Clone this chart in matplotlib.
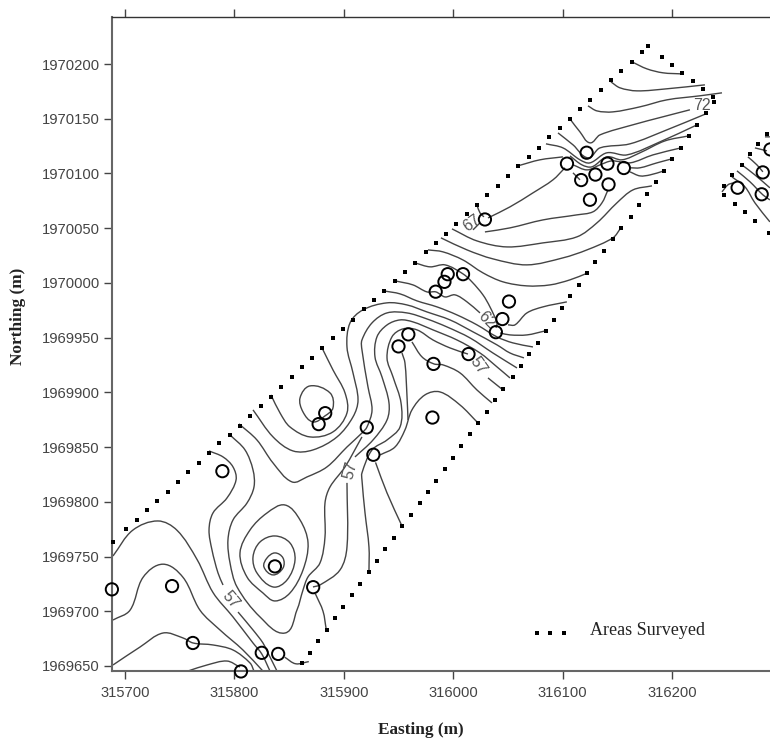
import matplotlib
matplotlib.use("Agg")
import math
import matplotlib.pyplot as plt
from matplotlib.path import Path
from matplotlib.patches import PathPatch

# Values are offsets (m) from these bases
E0 = 315000
N0 = 1969000

x_ticks = [315700, 315800, 315900, 316000, 316100, 316200]
y_ticks = [1969650, 1969700, 1969750, 1969800, 1969850, 1969900, 1969950, 1970000,
           1970050, 1970100, 1970150, 1970200]

survey_points = [(688,720),(743,723),(762,671),(806,645),(825,662),(840,661),(837,741),(872,722),
    (789,828),(883,881),(877,871),(921,868),(927,843),(981,877),(950,942),(959,953),(982,926),
    (1014,935),(1039,955),(1045,967),(1051,983),(984,992),(992,1001),(995,1008),(1009,1008),
    (1029,1058),(1104,1109),(1117,1094),(1130,1099),(1141,1109),(1122,1119),(1156,1105),
    (1142,1090),(1125,1076),(1260,1087),(1283,1101),(1282,1081),(1290,1122)]

boundary_main = [(688.8,763),(701.2,774.9),(710.7,783.1),(720.1,792.3),(729.5,800.9),(739,809.4),(748.5,818.4),
    (757.9,827),(767.4,835.6),(776.8,845),(786.2,853.4),(795.7,861.4),(805.1,869.7),(814.5,878.5),(824,887.2),
    (833.4,895.8),(842.9,905),(852.2,914.1),(861.5,923.5),(870.9,931.7),(880.3,940.6),(889.8,949.8),(899.2,958),
    (908.7,966.5),(918.2,976),(927.6,984.2),(937,992.7),(946.5,1002.1),(955.9,1010.4),(965.1,1018.6),(974.7,1028.4),
    (984,1036.6),(993.4,1045.1),(1002.8,1054.2),(1012.3,1063.1),(1021.7,1071.3),(1031.1,1080.7),(1040.6,1089),
    (1050,1097.6),(1059.5,1106.7),(1068.9,1115.5),(1078.4,1123.7),(1087.5,1133.2),(1097.3,1141.4),(1106.7,1149.9),
    (1116.1,1159.3),(1125.3,1167.6),(1134.8,1176.2),(1144.2,1185.6),(1153.6,1193.8),(1163.1,1202.3),(1172.5,1211.4),
    (1178.3,1216.9),(1190.5,1206.6),(1200,1199.3),(1209.4,1192),(1218.9,1184.4),(1228,1177.1),(1237.4,1169.8),
    (1238.6,1165.5),(1231.3,1155.1),(1222.8,1144.4),(1215.5,1134.1),(1208.2,1123.7),(1200,1113.1),(1192.4,1102.7),
    (1185.1,1092.1),(1176.8,1081.7),(1169.5,1071.3),(1162.2,1060.6),(1153.6,1050.3),(1146.3,1040),(1137.8,1029.6),
    (1130,1019.2),(1122.7,1008.7),(1114.9,998.2),(1107.2,987.7),(1099.4,977.2),(1092.1,966.5),(1084.8,956.2),
    (1077.2,945.5),(1069,934.9),(1061.7,924.5),(1054.4,914.1),(1045.8,903.4),(1038.5,893.1),(1031.1,882.4),
    (1022.6,872),(1015.3,861.7),(1007.1,851),(999.8,840.4),(992.5,830),(984,819.4),(976.7,809),(969.4,798.7),
    (961.1,788.3),(953.4,777.7),(946.3,767.3),(937.9,756.6),(930.6,746.2),(923.3,735.9),(915.1,725.2),(907.5,714.9),
    (899.2,704.2),(891.7,693.9),(884.3,683.2),(876.1,672.8),(868.8,662.2),(861.5,652.4)]

boundary_east = [(1286.8,1136.2),(1278.6,1127.1),(1271.3,1117.9),(1263.9,1107.9),(1254.8,1098.7),(1247.5,1088.7),
    (1247.5,1080.5),(1257.5,1072.2),(1266.7,1064.9),(1275.8,1056.7),(1288.6,1045.7)]

legend_marks = [(1076.3,680.2),(1088.7,680.2),(1101.2,680.2)]

# Open contour lines
c01 = [(689,750.5),(707,774),(730,782.5),(747.5,774),(766,747),(780.5,717),(798.7,694.8),(817,671),(825,661),(832.5,645.4)]
c02 = [(689,692),(704.6,701),(716.5,731),(734.7,743),(753,731),(768.5,701),(786.8,682.9),(807.8,664.6),(826,645.4)]
c03 = [(689,650.9),(713.7,667.3),(734.7,680.1),(753,675.6),(762.2,671),(780.4,669.2),(798.7,664.6),(814.3,652.7),(817.9,645.4)]
c04 = [(757.6,645.4),(775,650.9),(793.2,654.5),(805,649)]
c05a = [(776.8,846.5),(789.6,841),(798.7,831.9),(801.5,820),(793.2,803.5),(780.4,789.8),(776.8,774.3),(779.5,756),(785,735),(789.6,724)]
c05b = [(803.3,699.3),(817,682.9),(826.1,671),(830.7,661.9),(838.9,645.4)]
c05c = [(846,658),(856,652),(868,654)]
c06 = [(796,861.1),(809.7,847.4),(817,829.1),(817.9,813.6),(811.5,798.9),(798.7,783.4),(794.1,765.2),(796,744.1),
       (802.4,722.2),(823.4,694.8),(846.2,680.1),(857.2,701.2),(862.7,719.4),(867.3,731.4),(878.2,744.1),(882.8,767.9),
       (882.8,798.9),(887.4,813.6),(901.1,831.9),(916.6,859.3)]
c06b = [(874,716),(881,700),(884,683)]
c07 = [(833.4,897.7),(841.7,881.2),(850.8,868.4),(869.1,859.3),(890.1,863.9),(902.9,881.2),(901.1,899.5),(890.1,920.5),(880.1,940.6)]
c09 = [(817,884),(835.3,859.3),(853.5,846.5),(871.8,847.4),(893.8,859.3),(908.4,877.6),(913,893.1),(908.4,917.8),
       (902.9,941.5),(905.7,963.5),(917.5,975.4),(939.5,981.8),(957.7,979.9),(976,973.5),(997.1,966.2),(1018.1,955.3),
       (1040,943.4),(1051.9,936),(1064.7,931.5)]
c10 = [(804.2,871.2),(820.6,856.5),(835.3,835.5),(852.6,818.2),(866.3,822.7),(884.6,831.9),(902.9,850.1),(916.6,862.9),
       (921.2,868.4),(925.8,883.9),(922.1,905),(916.6,938.8),(916.6,947.9),(925.8,963.5),(939.5,972.6),(957.7,972.6),
       (976,967.1),(994.3,959.8),(1015.3,949.8),(1036.3,936),(1058.3,922.3)]
c11a = [(871.8,722.2),(878.2,724),(896.5,737.7),(902.9,758.7),(902.9,817.3)]
c11b = [(910.2,841),(926.7,856.5),(939.5,874.8),(941.3,890.4),(934.9,914.1),(928.5,932.4),(930.3,950.7),(939.5,961.6),
        (951.4,966.2),(963.2,964.4),(981.5,957.1),(1003.4,947.9),(1024.5,936),(1040,923.3),(1051.9,913.2)]
c12a = [(923,735.9),(923,758.7),(919.4,789.8),(916.6,820),(916.6,826.4),(925.8,847.4),(939.5,856.5),(951.4,868.4),
        (952.3,890.4),(945,914.1),(939.5,931.5),(944,950.7),(954.1,958),(966.9,957.1),(981.5,947.9),(997.1,940.6),(1013.5,935)]
c12b = [(1031.8,913.2),(1045.5,902.2)]
c13 = [(953.2,936),(955.9,926.9),(957.8,895.8),(958.7,874.8)]
c14 = [(933.1,842.8),(946.8,850.1),(955.9,865.7),(962.3,884),(974.2,897.7),(987.9,900.4),(1006.2,888.5),(1022.6,872.1)]
c15 = [(929,836),(939.5,808.1),(953.2,777.9)]
c16 = [(962.3,946.1),(971.5,932.4),(982.4,926),(990.7,925.1),(1006.2,917.8),(1021.7,902.2),(1035.4,890.4)]
c17 = [(936.7,992.7),(951.4,990),(966.9,983.6),(985.2,978.1),(1003.4,970.8),(1021.7,961.7),(1040,950.7),(1054.6,945.2),(1072.9,941.5)]
c18 = [(946.8,1001.9),(963.2,998.2),(976,991.8),(984.2,991.8),(992.5,987.2),(1001.6,989.1),(1012.6,982.7),(1024.5,972.6)]
c19 = [(965.1,1018.3),(978.8,1014.7),(992.5,1016.5),(1008.9,1008.3),(1017.2,1000.9),(1027.2,989.1),(1033.6,978.1),(1040,963.5),(1039.1,958.9)]
c20 = [(1042.8,954.3),(1051.9,952.5),(1067.4,952.5),(1083.9,956.1)]
c21 = [(1050.1,961.7),(1056.5,961.7),(1067.4,972.6),(1082,978.1),(1103.9,982.7)]
c22 = [(976.9,1030.2),(990.6,1028.4),(1008.9,1021),(1027.2,1009.2),(1045.5,1001),(1067.4,997.3),(1088.5,998.2),(1106.7,1002.8),(1123.2,1009.2)]
c23 = [(988.8,1041.2),(1012.6,1030.2),(1036.3,1022),(1067.4,1016.5),(1100.3,1022.9),(1122.3,1030.2),(1146,1041.2),(1153.3,1050.3)]
c24 = [(998.9,1049.4),(1021.7,1038.4),(1049.2,1032.9),(1082.1,1036.6),(1113.1,1042.1),(1131.4,1054.9),(1149.7,1073.2),(1164.3,1085),(1181.7,1088.7)]
c25 = [(1029,1046.6),(1051.9,1050.3),(1082.1,1057.6),(1113.1,1062.2),(1127.8,1065),(1136,1073.2),(1141.5,1085)]
c26 = [(1031.8,1059.4),(1051.9,1069.5),(1072.9,1082.3),(1091.2,1094.2),(1102.2,1105.2)]
c27 = [(1109.5,1100.6),(1115.9,1094.2)]
c28 = [(1021.7,1071.3),(1024.5,1064),(1028.1,1060.4)]
c29 = [(1018.1,1048.5),(1024.5,1054.9)]
c30 = [(1059.2,1107),(1079.3,1112.5),(1100.3,1115.2)]
c31 = [(1106.7,1149.9),(1115.9,1138),(1125,1128),(1134.2,1135.3),(1164.3,1144.5),(1191.7,1151.8),(1216.4,1158.2)]
c32 = [(1095.8,1137.1),(1109.5,1126.2),(1123.2,1114.3),(1134.2,1123.4),(1161.6,1127.1),(1195.4,1139.9),(1231,1154.5)]
c33 = [(1084.8,1127.1),(1100.3,1123.4),(1115.9,1112.5),(1125,1109.7),(1140.5,1118.9),(1158.8,1117),(1189,1128.9),(1222.8,1144.4)]
c34 = [(1106.7,1116.1),(1117.7,1107.9),(1126.8,1106.1),(1140.5,1115.2),(1154.3,1112.5),(1170.7,1118.9),(1193.6,1129.8),(1215.5,1134.4)]
c35 = [(1109.5,1107.9),(1122.3,1103.3),(1134.2,1107.9),(1145.1,1111.5),(1161.6,1109.7),(1182.6,1117),(1208.2,1123.4)]
c36 = [(1161.6,1105.2),(1170.7,1105.2),(1186.2,1109.7),(1200,1113.4)]
c37 = [(1161.6,1101.5),(1170.7,1097.8),(1179.9,1098.7),(1192.6,1102.4)]
c38 = [(1123.2,1161.8),(1131.4,1157.2),(1146,1156.3),(1170.7,1160.9),(1195.4,1167.3),(1225.6,1171),(1245.7,1173.7)]
c39 = [(1144.2,1183.7),(1152.4,1178.3),(1168,1175.5),(1195.4,1177.4),(1230.1,1181)]
c40 = [(1163.4,1202),(1177.1,1195.6),(1191.7,1192),(1209.1,1191)]
r1 = [(1245.7,1083.2),(1251.1,1089.6),(1255.7,1091.4)]
r2 = [(1269.4,1115.2),(1277.6,1107.9),(1283.1,1101.5)]
r3 = [(1263.9,1107.9),(1275.8,1098.7),(1289.5,1086.9)]
r4 = [(1259.4,1102.4),(1271.3,1092.4),(1283.1,1080.5),(1289.5,1075.9)]
r5 = [(1254.8,1096.9),(1266.7,1087.8),(1275.8,1073.2),(1289.5,1055.8)]
r6 = [(1275.8,1123.4),(1286.8,1120.7)]
r7 = [(1285,1133.5),(1289.5,1133.5)]

# Closed contour lines
h1 = [(846.2,797.1),(829.8,789.8),(814.3,774.3),(805.1,753.3),(811.5,731.3),(826.1,716.7),(837.1,709.4),(850.8,716.7),(862.7,737.7),(867.3,762.4),(860,783.4)]
h2 = [(837.1,768.8),(823.4,763.3),(817,749.6),(820.6,735),(835.3,722.2),(848.1,728.6),(855.4,746.9),(850.8,762.4)]
h3 = [(837.1,753.3),(829.8,748.7),(827,740.5),(835.3,733.2),(844.4,739.5),(844.4,748.7)]
h4 = [(869.1,905.9),(860,895),(862.7,882.1),(871.8,873),(882.8,878.5),(890.1,885.8),(887.4,899.5)]

open_contours = [c01,c02,c03,c04,c05a,c05b,c05c,c06,c06b,c07,c09,c10,c11a,c11b,c12a,c12b,c13,c14,c15,c16,c17,c18,c19,
                 c20,c21,c22,c23,c24,c25,c26,c27,c28,c29,c30,c31,c32,c33,c34,c35,c36,c37,c38,c39,c40,
                 r1,r2,r3,r4,r5,r6,r7]
closed_contours = [h1,h2,h3,h4]

contour_labels = [("57",796,710.3,-50),("57",905.7,829.1,75),("57",1022.6,924.2,-55),
                  ("62",1030.9,966.2,-45),("72",1227.4,1161.8,0),("67",1017,1054.9,35)]

INK = "#444444"
GREY = "#555555"


def xy(points):
    return [(E0 + e, N0 + n) for e, n in points]


def handle(a, b, c, length):
    """Control-point offset at b, along a->c, scaled to the neighbouring segment length."""
    dx, dy = c[0] - a[0], c[1] - a[1]
    d = math.hypot(dx, dy) or 1.0
    return dx / d * length / 3, dy / d * length / 3


def smooth_path(points, closed=False):
    p = xy(points)
    n = len(p)
    verts = [p[0]]
    codes = [Path.MOVETO]
    segs = n if closed else n - 1
    for i in range(segs):
        if closed:
            p0, p1, p2, p3 = p[(i - 1) % n], p[i], p[(i + 1) % n], p[(i + 2) % n]
        else:
            p0, p1, p2, p3 = p[max(i - 1, 0)], p[i], p[i + 1], p[min(i + 2, n - 1)]
        seg = math.hypot(p2[0] - p1[0], p2[1] - p1[1])
        h1x, h1y = handle(p0, p1, p2, seg)
        h2x, h2y = handle(p1, p2, p3, seg)
        verts += [(p1[0] + h1x, p1[1] + h1y), (p2[0] - h2x, p2[1] - h2y), p2]
        codes += [Path.CURVE4] * 3
    return Path(verts, codes)


fig = plt.figure(figsize=(7.7, 7.43), dpi=100, facecolor="white")
ax = fig.add_axes([112 / 770, 72 / 743, 658 / 770, 654 / 743])
ax.set_xlim(315688.1, 316289.6)
ax.set_ylim(1969645.4, 1970243)

for line in open_contours:
    ax.add_patch(PathPatch(smooth_path(line), fc="none", ec=INK, lw=1.0))
for line in closed_contours:
    ax.add_patch(PathPatch(smooth_path(line, closed=True), fc="none", ec=INK, lw=1.0))

for b in (boundary_main, boundary_east, legend_marks):
    pts = xy(b)
    ax.plot([q[0] for q in pts], [q[1] for q in pts], ls="none", marker="s", ms=2.9,
            color="black", mew=0, clip_on=False, zorder=3)

pts = xy(survey_points)
ax.scatter([q[0] for q in pts], [q[1] for q in pts], s=78, facecolors="none",
           edgecolors="black", linewidths=1.4, clip_on=False, zorder=4)

for label, e, n, rot in contour_labels:
    ax.text(E0 + e, N0 + n, label, rotation=rot, rotation_mode="anchor", ha="center", va="center",
            family="Liberation Sans", fontsize=11.5, color=GREY, zorder=2)

ax.text(E0 + 1125, N0 + 682, "Areas Surveyed", family="Liberation Serif", fontsize=13,
        color="#222222", ha="left", va="center")

ax.set_xticks(x_ticks)
ax.set_yticks(y_ticks)
ax.set_xticklabels([str(t) for t in x_ticks])
ax.set_yticklabels([str(t) for t in y_ticks])
ax.tick_params(axis="both", direction="out", length=5.8, width=1.0, color="#444444",
               labelcolor="#444444", labelsize=10.6, pad=3)
ax.tick_params(axis="x", top=True, pad=5)
for lab in ax.get_xticklabels() + ax.get_yticklabels():
    lab.set_family("Liberation Sans")

ax.spines["right"].set_visible(False)
ax.spines["top"].set_linewidth(1.0)
ax.spines["top"].set_color("#333333")
ax.spines["left"].set_linewidth(1.5)
ax.spines["left"].set_color("#666666")
ax.spines["bottom"].set_linewidth(1.5)
ax.spines["bottom"].set_color("#666666")

fig.text(421 / 770, 1 - 730 / 743, "Easting (m)", family="Liberation Serif", fontweight="bold",
         fontsize=12.4, color="#222222", ha="center", va="center")
fig.text(18 / 770, 1 - 316 / 743, "Northing (m)", family="Liberation Serif", fontweight="bold",
         fontsize=12.4, color="#222222", rotation=90, ha="center", va="center")

fig.savefig("out.png", dpi=100, facecolor="white")
